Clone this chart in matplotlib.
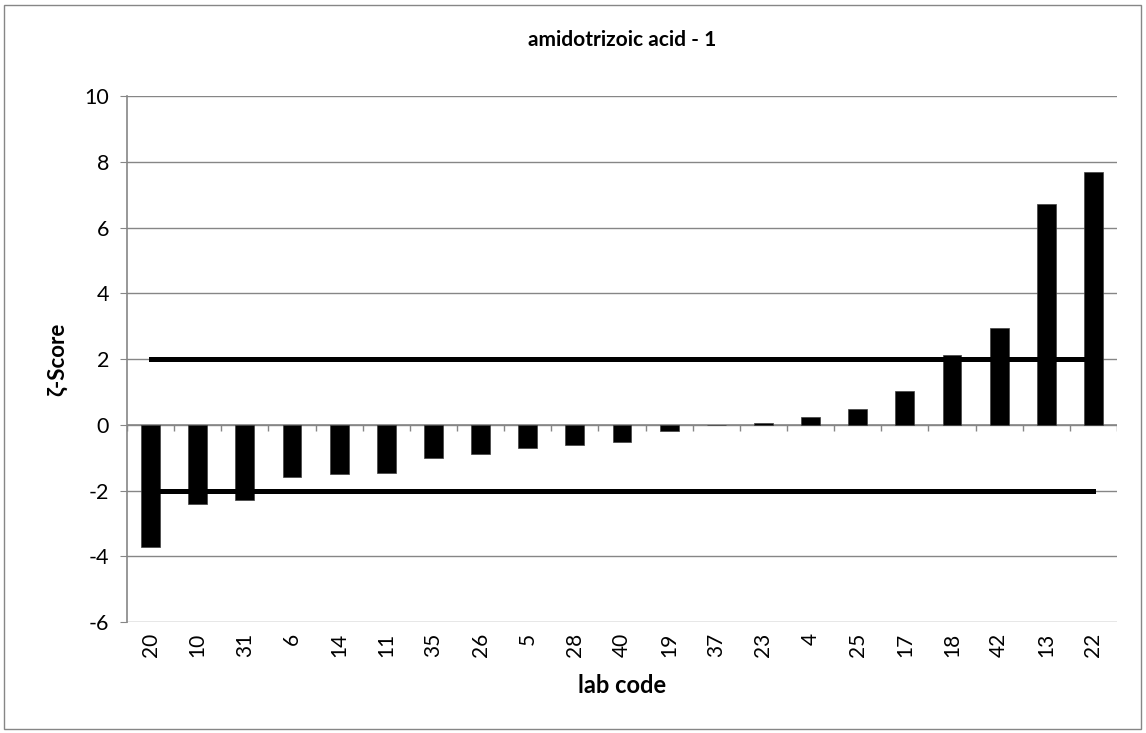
import matplotlib.pyplot as plt
import matplotlib.patches as patches
import numpy as np

# data
labs = ['20', '10', '31', '6', '14', '11', '35', '26', '5', '28', '40',
        '19', '37', '23', '4', '25', '17', '18', '42', '13', '22']
zeta = [-3.71, -2.41, -2.29, -1.59, -1.49, -1.48, -1.0, -0.89, -0.71, -0.61, -0.53,
        -0.2, 0.0, 0.05, 0.24, 0.48, 1.04, 2.11, 2.94, 6.73, 7.69]
upper_limit = 2
lower_limit = -2

plt.rcParams['font.family'] = ['Lato', 'DejaVu Sans']
plt.rcParams['axes.unicode_minus'] = False

fig = plt.figure(figsize=(11.46, 7.33), dpi=100)
ax = fig.add_axes([0.1108, 0.1514, 0.8639, 0.7176])

x = np.arange(len(labs))
grey = '#868686'

ax.set_ylim(-6, 10)
ax.set_xlim(-0.5, len(labs) - 0.5)
ax.set_yticks(np.arange(-6, 11, 2))
ax.yaxis.grid(True, color=grey, linewidth=1.0)
ax.set_axisbelow(True)

ax.bar(x, zeta, width=0.4, color='black', edgecolor='#404040', linewidth=0.5, zorder=2)

# limit lines from first to last category
ax.plot([x[0], x[-1]], [upper_limit, upper_limit], color='black', linewidth=3.6, zorder=3)
ax.plot([x[0], x[-1]], [lower_limit, lower_limit], color='black', linewidth=3.6, zorder=3)

# category axis at zero with ticks between categories
ax.axhline(0, color=grey, linewidth=1.2, zorder=1)
bounds = np.arange(len(labs) + 1) - 0.5
ax.vlines(bounds, -0.2, 0, color=grey, linewidth=1.0, zorder=1)

for s in ['top', 'right', 'bottom']:
    ax.spines[s].set_visible(False)
ax.spines['left'].set_color(grey)
ax.spines['left'].set_linewidth(1.2)

ax.set_xticks(x)
ax.set_xticklabels(labs, rotation=90, fontsize=15)
ax.tick_params(axis='x', length=0, pad=8)
ax.tick_params(axis='y', direction='out', length=5, color=grey, labelsize=15.5, pad=8)

ax.set_title('amidotrizoic acid - 1', fontsize=15, fontweight='bold', pad=36)
ax.set_xlabel('lab code', fontsize=17, fontweight='bold', labelpad=12)
ax.set_ylabel('ζ-Score', fontsize=16, fontweight='bold', labelpad=12)

# outer chart border
fig.patches.append(patches.Rectangle((0.0035, 0.006), 0.992, 0.987, transform=fig.transFigure,
                                     fill=False, edgecolor=grey, linewidth=1.0))

fig.savefig('out.png', dpi=100)
